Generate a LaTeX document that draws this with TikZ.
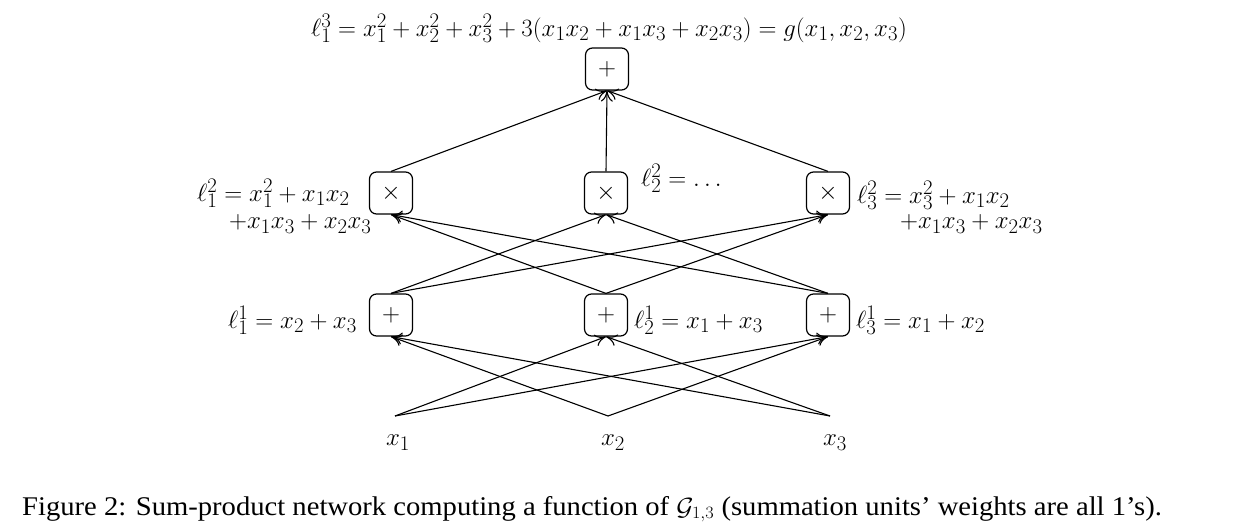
\documentclass[tikz,border=0pt]{standalone}
\usepackage{fontspec}
\newfontfamily\capfont{Liberation Serif}
\usetikzlibrary{arrows.meta}
\tikzset{
  unit/.style={draw, line width=1.2pt, rounded corners=7pt, minimum width=43pt, minimum height=42pt, inner sep=0pt, font=\Huge},
  lbl/.style={font=\Huge, inner sep=0pt},
  edge/.style={line width=1.1pt, -{To[length=11pt,width=12pt]}},
}
\begin{document}
\begin{tikzpicture}[x=1pt,y=-1pt]
\useasboundingbox (0,0) rectangle (1238,529);
\node[unit] (top) at (607,69) {$+$};
\node[unit] (p1) at (391,193) {$\times$};
\node[unit] (p2) at (606,193) {$\times$};
\node[unit] (p3) at (828,193) {$\times$};
\node[unit] (s1) at (391,315) {$+$};
\node[unit] (s2) at (606,315) {$+$};
\node[unit] (s3) at (828,315) {$+$};
\coordinate (i1) at (395,416);
\coordinate (i2) at (608,416);
\coordinate (i3) at (830,416);
\node[lbl] (x1) at (398,443) {$x_1$};
\node[lbl] (x2) at (613,443) {$x_2$};
\node[lbl] (x3) at (835,443) {$x_3$};
\node[lbl] (ltop) at (609,28) {$\ell_1^3=x_1^2+x_2^2+x_3^2+3(x_1x_2+x_1x_3+x_2x_3)=g(x_1,x_2,x_3)$};
\node[lbl, anchor=west] (l21a) at (197,193) {$\ell_1^2=x_1^2+x_1x_2$};
\node[lbl, anchor=west] (l21b) at (229,224) {$+x_1x_3+x_2x_3$};
\node[lbl, anchor=west] (l22) at (641,178) {$\ell_2^2=\dots$};
\node[lbl, anchor=west] (l23a) at (857,195) {$\ell_3^2=x_3^2+x_1x_2$};
\node[lbl, anchor=west] (l23b) at (900,224) {$+x_1x_3+x_2x_3$};
\node[lbl, anchor=west] (l11) at (228,320) {$\ell_1^1=x_2+x_3$};
\node[lbl, anchor=west] (l12) at (634,320) {$\ell_2^1=x_1+x_3$};
\node[lbl, anchor=west] (l13) at (856,320) {$\ell_3^1=x_1+x_2$};
\node[anchor=base west, inner sep=0pt, font=\capfont\fontsize{27}{31}\selectfont] (cap) at (22,515) {\scalebox{1.06}[1]{Figure 2: Sum-product network computing a function of $\mathcal{G}_{1,3}$ (summation units’ weights are all 1’s).}};
\draw[edge] (i1) -- (s2.south);
\draw[edge] (i1) -- (s3.south);
\draw[edge] (i2) -- (s1.south);
\draw[edge] (i2) -- (s3.south);
\draw[edge] (i3) -- (s1.south);
\draw[edge] (i3) -- (s2.south);
\draw[edge] (s2.north) -- (p1.south);
\draw[edge] (s3.north) -- (p1.south);
\draw[edge] (s1.north) -- (p2.south);
\draw[edge] (s3.north) -- (p2.south);
\draw[edge] (s1.north) -- (p3.south);
\draw[edge] (s2.north) -- (p3.south);
\draw[edge] (p1.north) -- (top.south);
\draw[edge] (p2.north) -- (top.south);
\draw[edge] (p3.north) -- (top.south);
\end{tikzpicture}
\end{document}
